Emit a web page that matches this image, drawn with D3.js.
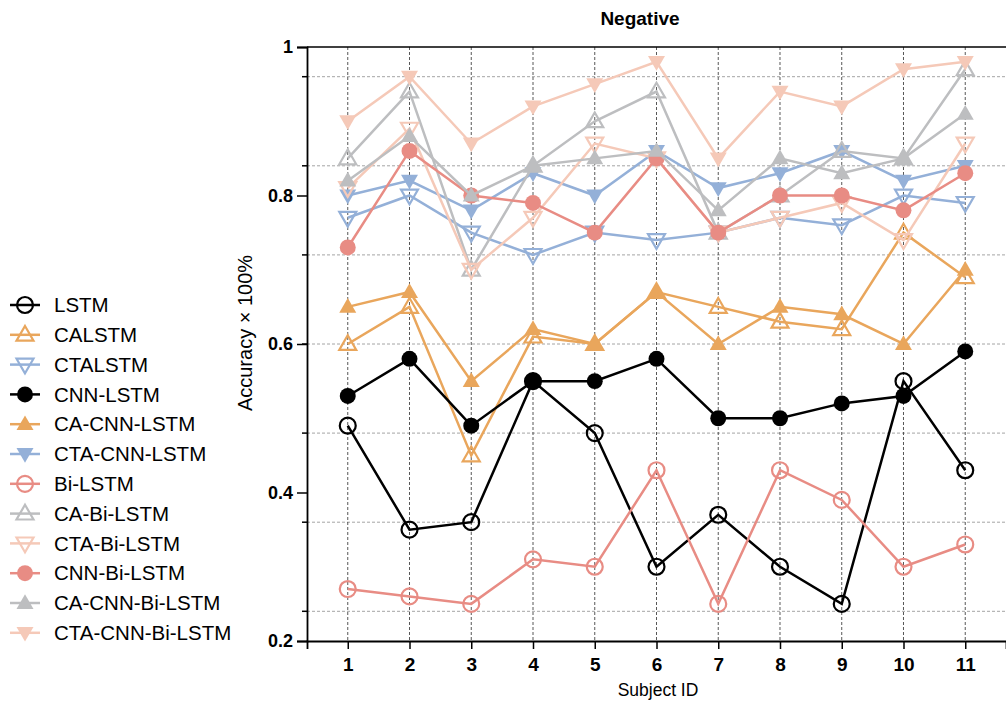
<!DOCTYPE html>
<html>
<head>
<meta charset="utf-8">
<script src="https://cdn.jsdelivr.net/npm/d3@7"></script>
<style>
  body { margin: 0; background: #fff; }
  text { font-family: 'Liberation Sans', Arial, sans-serif; }
</style>
</head>
<body>
<div id="chart"></div>
<script>
const subjects = [1, 2, 3, 4, 5, 6, 7, 8, 9, 10, 11];
const yTicks = [0.2, 0.4, 0.6, 0.8, 1];
const gridValues = [0.24, 0.36, 0.48, 0.6, 0.72, 0.84, 0.96];

const seriesNames = ['LSTM', 'CALSTM', 'CTALSTM', 'CNN-LSTM', 'CA-CNN-LSTM', 'CTA-CNN-LSTM',
  'Bi-LSTM', 'CA-Bi-LSTM', 'CTA-Bi-LSTM', 'CNN-Bi-LSTM', 'CA-CNN-Bi-LSTM', 'CTA-CNN-Bi-LSTM'];

const lstm          = [0.49, 0.35, 0.36, 0.55, 0.48, 0.30, 0.37, 0.30, 0.25, 0.55, 0.43];
const calstm        = [0.60, 0.65, 0.45, 0.61, 0.60, 0.67, 0.65, 0.63, 0.62, 0.75, 0.69];
const ctalstm       = [0.77, 0.80, 0.75, 0.72, 0.75, 0.74, 0.75, 0.77, 0.76, 0.80, 0.79];
const cnnLstm       = [0.53, 0.58, 0.49, 0.55, 0.55, 0.58, 0.50, 0.50, 0.52, 0.53, 0.59];
const caCnnLstm     = [0.65, 0.67, 0.55, 0.62, 0.60, 0.67, 0.60, 0.65, 0.64, 0.60, 0.70];
const ctaCnnLstm    = [0.80, 0.82, 0.78, 0.83, 0.80, 0.86, 0.81, 0.83, 0.86, 0.82, 0.84];
const biLstm        = [0.27, 0.26, 0.25, 0.31, 0.30, 0.43, 0.25, 0.43, 0.39, 0.30, 0.33];
const caBiLstm      = [0.85, 0.94, 0.70, 0.84, 0.90, 0.94, 0.75, 0.80, 0.86, 0.85, 0.97];
const ctaBiLstm     = [0.81, 0.89, 0.70, 0.77, 0.87, 0.85, 0.75, 0.77, 0.79, 0.74, 0.87];
const cnnBiLstm     = [0.73, 0.86, 0.80, 0.79, 0.75, 0.85, 0.75, 0.80, 0.80, 0.78, 0.83];
const caCnnBiLstm   = [0.82, 0.88, 0.80, 0.84, 0.85, 0.86, 0.78, 0.85, 0.83, 0.85, 0.91];
const ctaCnnBiLstm  = [0.90, 0.96, 0.87, 0.92, 0.95, 0.98, 0.85, 0.94, 0.92, 0.97, 0.98];

const seriesValues = [lstm, calstm, ctalstm, cnnLstm, caCnnLstm, ctaCnnLstm,
  biLstm, caBiLstm, ctaBiLstm, cnnBiLstm, caCnnBiLstm, ctaCnnBiLstm];

// colour, marker shape, filled?
const black = '#000000', orange = '#E9A65C', blue = '#94B0D8',
      salmon = '#E88C84', gray = '#BDBEC0', peach = '#F5C9B8';
const styles = [
  [black, 'circle', false], [orange, 'up', false], [blue, 'down', false],
  [black, 'circle', true], [orange, 'up', true], [blue, 'down', true],
  [salmon, 'circle', false], [gray, 'up', false], [peach, 'down', false],
  [salmon, 'circle', true], [gray, 'up', true], [peach, 'down', true]
];

const series = seriesNames.map((name, i) => ({
  name: name, values: seriesValues[i],
  color: styles[i][0], shape: styles[i][1], filled: styles[i][2]
}));

const W = 1006, H = 704;
const margin = { top: 47, right: 0, bottom: 63, left: 307 },
      width = W - margin.left - margin.right,
      height = H - margin.top - margin.bottom;

const svg = d3.select('#chart').append('svg')
    .attr('width', W)
    .attr('height', H);

const g = svg.append('g')
    .attr('transform', 'translate(' + margin.left + ',' + margin.top + ')');

const x = d3.scaleLinear().domain([1 - 0.66, 11 + 0.66]).range([0, width]),
      y = d3.scaleLinear().domain([0.2, 1]).range([height, 0]);

// grid
g.append('g').selectAll('line')
    .data(gridValues)
  .enter().append('line')
    .attr('x1', 0).attr('x2', width)
    .attr('y1', d => y(d)).attr('y2', d => y(d))
    .style('stroke', '#9a9a9a')
    .style('stroke-width', 0.9)
    .style('stroke-dasharray', '3,2');

g.append('g').selectAll('line')
    .data(subjects)
  .enter().append('line')
    .attr('x1', d => x(d)).attr('x2', d => x(d))
    .attr('y1', 0).attr('y2', height)
    .style('stroke', '#444')
    .style('stroke-width', 0.9)
    .style('stroke-dasharray', '3,2');

// axes
const yAxis = g.append('g')
    .call(d3.axisLeft(y).tickValues(yTicks).tickSize(10).tickPadding(4)
      .tickFormat(d => d === 1 ? '1' : d3.format('.1f')(d)));
yAxis.selectAll('text')
    .style('font-size', '18px').style('font-weight', 'bold').attr('fill', '#000');

g.append('g').selectAll('line')
    .data(gridValues)
  .enter().append('line')
    .attr('x1', -5).attr('x2', 0)
    .attr('y1', d => y(d)).attr('y2', d => y(d))
    .style('stroke', '#000').style('stroke-width', 1.5);

const xAxis = g.append('g')
    .attr('transform', 'translate(0,' + height + ')')
    .call(d3.axisBottom(x).tickValues(subjects).tickSize(8).tickPadding(9).tickFormat(d3.format('d')));
xAxis.selectAll('text')
    .style('font-size', '19px').style('font-weight', 'bold').attr('fill', '#000');

[yAxis, xAxis].forEach(a => {
  a.select('.domain').style('stroke-width', 1.8);
  a.selectAll('.tick line').style('stroke-width', 1.5);
});

g.append('line')
    .attr('x1', 0).attr('x2', width).attr('y1', 0).attr('y2', 0)
    .style('stroke', '#000').style('stroke-width', 1.5);

// titles
svg.append('text')
    .attr('x', 640).attr('y', 25)
    .attr('text-anchor', 'middle')
    .style('font-size', '19px').style('font-weight', 'bold')
    .text('Negative');

svg.append('text')
    .attr('x', 658).attr('y', 696)
    .attr('text-anchor', 'middle')
    .style('font-size', '17.5px')
    .text('Subject ID');

svg.append('text')
    .attr('transform', 'translate(252,333) rotate(-90)')
    .attr('text-anchor', 'middle')
    .style('font-size', '20px')
    .text('Accuracy × 100%');

function symbolPath(shape) {
  const s = shape === 'circle' ? d3.symbol(d3.symbolCircle, 200) : d3.symbol(d3.symbolTriangle, 125);
  return s();
}
function symbolTransform(shape, px, py) {
  if (shape === 'up') return 'translate(' + px + ',' + (py + 1) + ')';
  if (shape === 'down') return 'translate(' + px + ',' + (py - 1) + ') rotate(180)';
  return 'translate(' + px + ',' + py + ')';
}

const line = d3.line().x((d, i) => x(subjects[i])).y(d => y(d));

series.forEach(s => {
  const sg = g.append('g');
  sg.append('path')
      .attr('d', line(s.values))
      .style('fill', 'none')
      .style('stroke', s.color)
      .style('stroke-width', 2.5);
  sg.selectAll('path.marker')
      .data(s.values)
    .enter().append('path')
      .attr('class', 'marker')
      .attr('d', symbolPath(s.shape))
      .attr('transform', (d, i) => symbolTransform(s.shape, x(subjects[i]), y(d)))
      .style('fill', s.filled ? s.color : 'none')
      .style('stroke', s.color)
      .style('stroke-width', s.filled ? 0 : 2.2);
});

// legend
const legend = svg.append('g').attr('transform', 'translate(0,305)');
const entries = legend.selectAll('g')
    .data(series)
  .enter().append('g')
    .attr('transform', (d, i) => 'translate(0,' + (i * 29.8) + ')');

entries.append('line')
    .attr('x1', 10).attr('x2', 40)
    .style('stroke', d => d.color)
    .style('stroke-width', 2.5);

entries.append('path')
    .attr('d', d => symbolPath(d.shape))
    .attr('transform', d => symbolTransform(d.shape, 25, 0))
    .style('fill', d => d.filled ? d.color : 'none')
    .style('stroke', d => d.color)
    .style('stroke-width', d => d.filled ? 0 : 2.2);

entries.append('text')
    .attr('x', 54).attr('y', 0)
    .attr('dy', '0.35em')
    .style('font-size', '20.5px')
    .text(d => d.name);
</script>
</body>
</html>
